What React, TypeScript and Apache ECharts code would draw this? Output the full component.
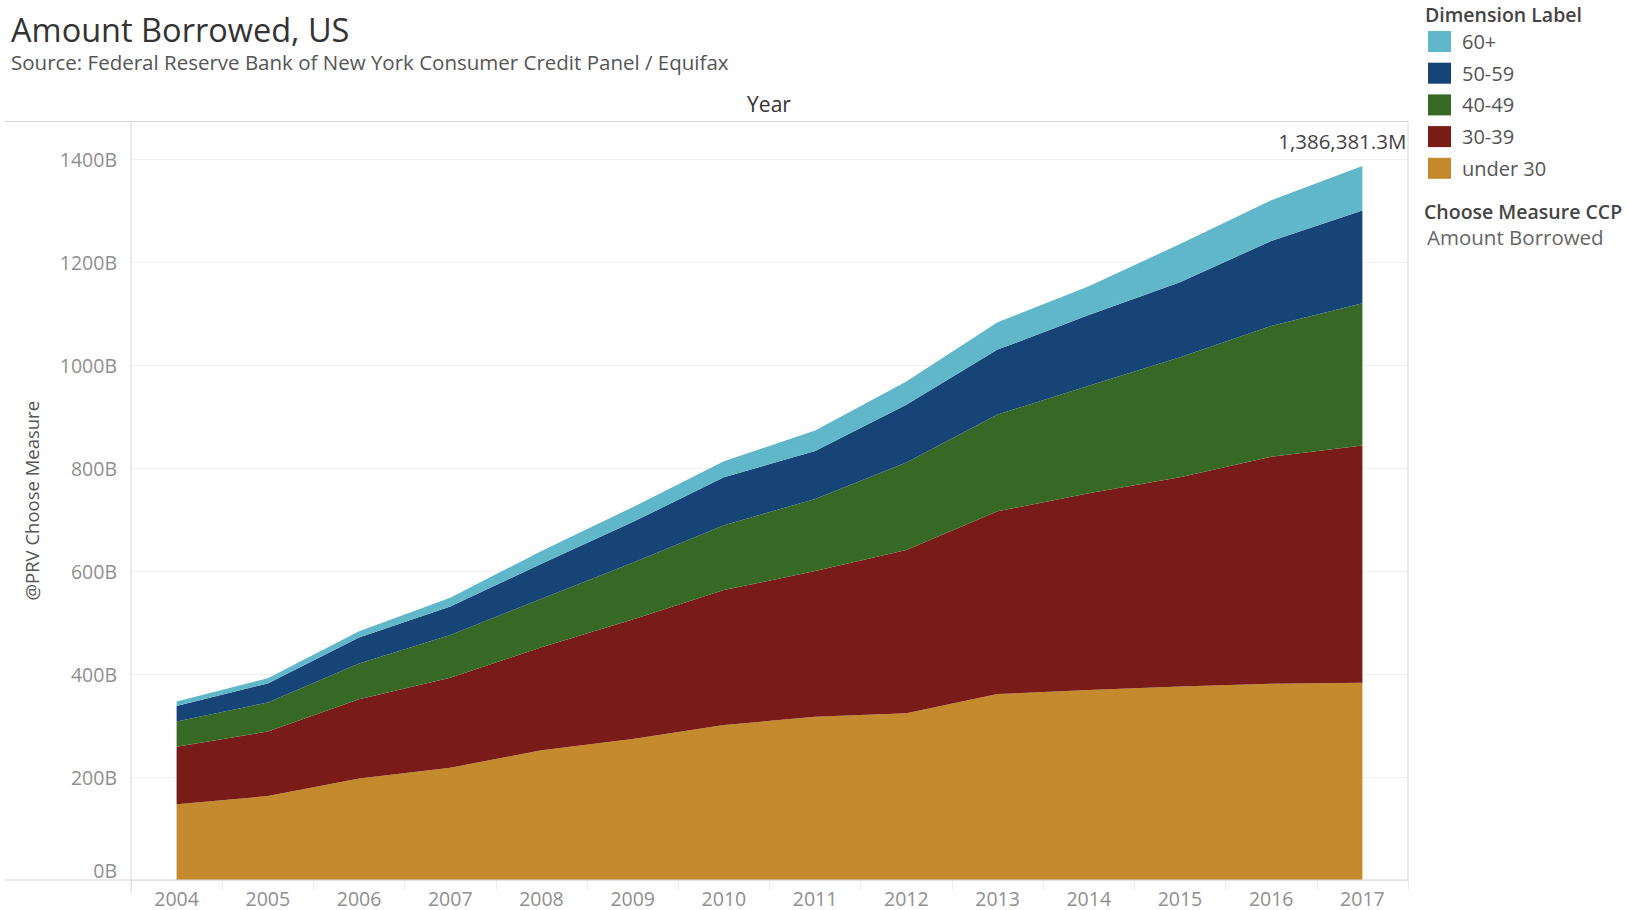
import React, { useEffect, useRef } from "react";
import * as echarts from "echarts";

// Values in billions of dollars
const years = ["2004", "2005", "2006", "2007", "2008", "2009", "2010", "2011", "2012", "2013", "2014", "2015", "2016", "2017"];
const under30 = [147, 163, 197, 218, 252, 274, 301, 317, 324, 361, 369, 376, 381, 383];
const age30to39 = [111.6, 125.5, 154, 175, 200, 232, 262, 283, 317, 355, 382, 406, 441, 461];
const age40to49 = [49.2, 56.3, 69.6, 83, 94, 110, 126, 140, 170, 188, 209, 233, 254, 276];
const age50to59 = [30.2, 37, 50.4, 55, 68, 79, 93, 93, 112, 126, 137, 146, 165, 180];
const age60plus = [8.6, 10.2, 12, 17, 25, 29, 31, 40, 45, 53, 56, 74, 79, 86.3813];
const legendOrder = ["60+", "50-59", "40-49", "30-39", "under 30"];

const FONT = "'Open Sans', 'Noto Sans', sans-serif";

export default function App() {
  const ref = useRef<HTMLDivElement>(null);

  useEffect(() => {
    if (!ref.current) return;
    const chart = echarts.init(ref.current, undefined, { renderer: "svg" });
    const last = years.length - 1;
    const total =
      under30[last] + age30to39[last] + age40to49[last] + age50to59[last] + age60plus[last];
    const totalText =
      (total * 1000).toLocaleString("en-US", { minimumFractionDigits: 1, maximumFractionDigits: 1 }) + "M";

    const mk = (name: string, data: number[], color: string, withLabel = false) => ({
      name,
      type: "line",
      stack: "total",
      data: data.map((v, i) =>
        withLabel && i === last
          ? {
              value: v,
              label: {
                show: true,
                position: "top",
                align: "right",
                offset: [44, -10],
                formatter: () => totalText,
                fontFamily: FONT,
                fontSize: 20.5,
                color: "#444",
              },
            }
          : v
      ),
      symbol: "circle",
      symbolSize: 0,
      showSymbol: true,
      lineStyle: { width: 0, color },
      itemStyle: { color },
      areaStyle: { color, opacity: 1 },
      emphasis: { disabled: true },
      z: 2,
    });

    chart.setOption({
      animation: false,
      textStyle: { fontFamily: FONT },
      grid: { left: 131, right: 221, top: 121.5, bottom: 30, containLabel: false },
      xAxis: {
        type: "category",
        data: years,
        boundaryGap: true,
        axisLine: { show: false },
        axisTick: { show: true, length: 10, lineStyle: { color: "#ececec" } },
        axisLabel: { color: "#8f8f8f", fontSize: 19.5, lineHeight: 20, margin: 8, fontFamily: FONT },
        splitLine: { show: false },
      },
      yAxis: {
        type: "value",
        min: 0,
        max: 1473,
        interval: 200,
        name: "@PRV Choose Measure",
        nameLocation: "middle",
        nameGap: 90,
        nameTextStyle: { color: "#555", fontSize: 18.5, fontFamily: FONT },
        axisLine: { show: false },
        axisTick: { show: false },
        axisLabel: {
          color: "#8f8f8f",
          fontSize: 19.5,
          margin: 14,
          fontFamily: FONT,
          verticalAlignMinLabel: "bottom",
          formatter: (v: number) => (v % 200 === 0 ? v + "B" : ""),
        },
        splitLine: { show: true, showMaxLine: false, lineStyle: { color: "#efefef" } },
      },
      legend: {
        data: legendOrder,
        orient: "vertical",
        left: 1428,
        top: 31,
        padding: 0,
        itemWidth: 23,
        itemHeight: 21,
        itemGap: 10.7,
        icon: "rect",
        itemStyle: { borderWidth: 0 },
        selectedMode: false,
        textStyle: { color: "#555", fontSize: 20, fontFamily: FONT, padding: [0, 0, 0, 6] },
      },
      graphic: [
        {
          type: "text",
          x: 11,
          y: 29,
          style: { text: "Amount Borrowed, US", fontSize: 32.5, fill: "#333", fontFamily: FONT, textVerticalAlign: "middle" },
        },
        {
          type: "text",
          x: 11,
          y: 62,
          style: {
            text: "Source: Federal Reserve Bank of New York Consumer Credit Panel / Equifax",
            fontSize: 20.5,
            fill: "#555",
            fontFamily: FONT,
            textVerticalAlign: "middle",
          },
        },
        { type: "text", x: 769, y: 104.4, style: { text: "Year", fontSize: 21, fill: "#333", fontFamily: FONT, textAlign: "center", textVerticalAlign: "middle" } },
        { type: "text", x: 1425, y: 14.5, style: { text: "Dimension Label", fontSize: 19.5, fontWeight: 600, fill: "#444", fontFamily: FONT, textVerticalAlign: "middle" } },
        { type: "text", x: 1424, y: 211.4, style: { text: "Choose Measure CCP", fontSize: 19.5, fontWeight: 600, fill: "#444", fontFamily: FONT, textVerticalAlign: "middle" } },
        { type: "text", x: 1427, y: 237, style: { text: "Amount Borrowed", fontSize: 20.5, fill: "#666", fontFamily: FONT, textVerticalAlign: "middle" } },
        { type: "line", shape: { x1: 5, y1: 121.5, x2: 1408, y2: 121.5 }, style: { stroke: "#d6d6d6", lineWidth: 1 }, z: 10 },
        { type: "line", shape: { x1: 5, y1: 880, x2: 1408, y2: 880 }, style: { stroke: "#d6d6d6", lineWidth: 1 }, z: 10 },
        { type: "line", shape: { x1: 131, y1: 121.5, x2: 131, y2: 893 }, style: { stroke: "#d6d6d6", lineWidth: 1 }, z: 10 },
        { type: "line", shape: { x1: 1408, y1: 121.5, x2: 1408, y2: 880 }, style: { stroke: "#d6d6d6", lineWidth: 1 }, z: 10 },
      ],
      series: [
        mk("under 30", under30, "#c5892e"),
        mk("30-39", age30to39, "#791b16"),
        mk("40-49", age40to49, "#366926"),
        mk("50-59", age50to59, "#174476"),
        mk("60+", age60plus, "#60b7ca", true),
      ],
    });

    return () => chart.dispose();
  }, []);

  return (
    <div
      ref={ref}
      style={{ position: "fixed", left: 0, top: 0, width: 1629, height: 910, background: "#fff" }}
    />
  );
}
